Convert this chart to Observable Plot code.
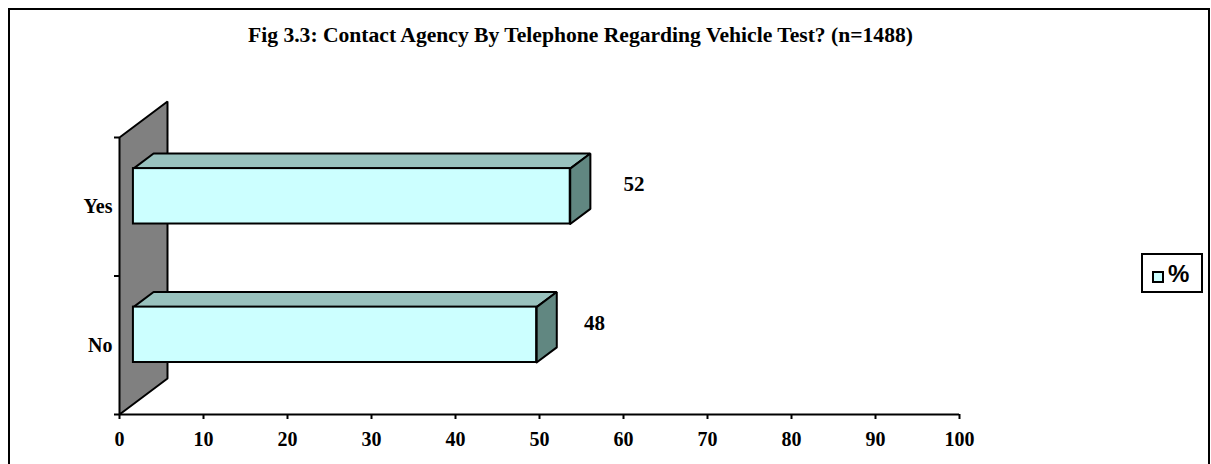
<!DOCTYPE html>
<html>
<head>
<meta charset="utf-8">
<script src="https://cdn.jsdelivr.net/npm/d3@7"></script>
<script src="https://cdn.jsdelivr.net/npm/@observablehq/plot@0.6"></script>
<style>
  body { margin: 0; background: #fff; }
  #wrap { position: relative; width: 1211px; height: 464px; overflow: hidden; background: #fff; }
  #frame { position: absolute; left: 8px; top: 8px; width: 1202px; height: 480px; border: 2px solid #000; box-sizing: border-box; pointer-events: none; }
  #title { position: absolute; left: 248px; top: 25px; font: bold 21.6px "Liberation Serif", "Times New Roman", serif; line-height: 21px; white-space: nowrap; color: #000; }
  #legend { position: absolute; left: 1141px; top: 253px; width: 62px; height: 40px; border: 2px solid #000; box-sizing: border-box; background: #fff; }
  #legend .sw { position: absolute; left: 9px; top: 16px; width: 12px; height: 12px; border: 2px solid #000; box-sizing: border-box; background: #CCFFFF; }
  #legend .lb { position: absolute; left: 25px; top: 6px; font: bold 24px "Liberation Sans", Arial, sans-serif; line-height: 26px; }
  #chart { position: absolute; left: 0; top: 0; }
</style>
</head>
<body>
<div id="wrap">
  <div id="chart"></div>
  <div id="frame"></div>
  <div id="title"></div>
  <div id="legend"><div class="sw"></div><div class="lb"></div></div>
</div>
<script>
// ---- data ----
const titleText = "Fig 3.3: Contact Agency By Telephone Regarding Vehicle Test? (n=1488)";
const categories = ["Yes", "No"];
const values = [52, 48];
const seriesName = "%";
const xTicks = [0, 10, 20, 30, 40, 50, 60, 70, 80, 90, 100];

document.getElementById("title").textContent = titleText;
document.querySelector("#legend .lb").textContent = seriesName;

// category positions on the y scale (bottom to top)
const rows = categories.map((c, i) => ({cat: c, value: values[i], pos: categories.length - 1 - i}));

// 3-D depth geometry (in scale units): full wall depth offset
const WX = 5.714;   // x units per full depth
const WY = 0.26;    // y units per full depth
const D0 = 0.29, D1 = 0.71;   // bar front/back depth
const BAR_LO = 0.3, BAR_HI = 0.7; // bar extent inside band

// wall polygon
const wall = [
  {x: 0, y: 0}, {x: 0, y: categories.length}, {x: WX, y: categories.length + WY}, {x: WX, y: WY}, {x: 0, y: 0}
];

// bar faces
const tops = [], sides = [];
rows.forEach(r => {
  const yt = r.pos + BAR_HI, yb = r.pos + BAR_LO;
  [[D0 * WX, yt + D0 * WY], [r.value + D0 * WX, yt + D0 * WY], [r.value + D1 * WX, yt + D1 * WY], [D1 * WX, yt + D1 * WY], [D0 * WX, yt + D0 * WY]]
    .forEach(([x, y]) => tops.push({id: r.cat, x, y}));
  [[r.value + D0 * WX, yb + D0 * WY], [r.value + D0 * WX, yt + D0 * WY], [r.value + D1 * WX, yt + D1 * WY], [r.value + D1 * WX, yb + D1 * WY], [r.value + D0 * WX, yb + D0 * WY]]
    .forEach(([x, y]) => sides.push({id: r.cat, x, y}));
});

const chart = Plot.plot({
  width: 1211,
  height: 464,
  marginLeft: 119,
  marginRight: 252,
  marginTop: 137,
  marginBottom: 50,
  style: {fontFamily: "'Liberation Serif', 'Times New Roman', serif", fontSize: "20px", fontWeight: "bold", color: "#000", background: "transparent", overflow: "visible"},
  x: {domain: [0, 100]},
  y: {domain: [0, categories.length]},
  marks: [
    Plot.line(wall, {x: "x", y: "y", fill: "#808080", stroke: "#000", strokeWidth: 2, strokeLinejoin: "miter"}),
    Plot.line(tops, {x: "x", y: "y", z: "id", fill: "#99C2BE", stroke: "#000", strokeWidth: 2, strokeLinejoin: "miter"}),
    Plot.line(sides, {x: "x", y: "y", z: "id", fill: "#618781", stroke: "#000", strokeWidth: 2, strokeLinejoin: "miter"}),
    Plot.rect(rows, {
      x1: () => D0 * WX, x2: d => d.value + D0 * WX,
      y1: d => d.pos + BAR_LO + D0 * WY, y2: d => d.pos + BAR_HI + D0 * WY,
      fill: "#CCFFFF", stroke: "#000", strokeWidth: 2
    }),
    Plot.ruleY([0], {stroke: "#000", strokeWidth: 2}),
    Plot.axisX({ticks: xTicks, tickSize: 5, tickPadding: 12, tickFormat: d => String(d), strokeWidth: 2, label: null, fontSize: 20}),
    Plot.axisY({ticks: d3.range(0, categories.length + 1), tickSize: 5, tickFormat: () => "", strokeWidth: 2, label: null}),
    Plot.axisY({ticks: rows.map(r => r.pos + 0.5), tickSize: 0, tickPadding: 7, tickFormat: p => rows.find(r => r.pos + 0.5 === p).cat, label: null, fontSize: 20}),
    Plot.text(rows, {x: d => d.value * 1.178, y: d => d.pos + 0.5, dy: -22, text: d => String(d.value), fontSize: 21, fontWeight: "bold"})
  ]
});
document.getElementById("chart").appendChild(chart);
</script>
</body>
</html>
